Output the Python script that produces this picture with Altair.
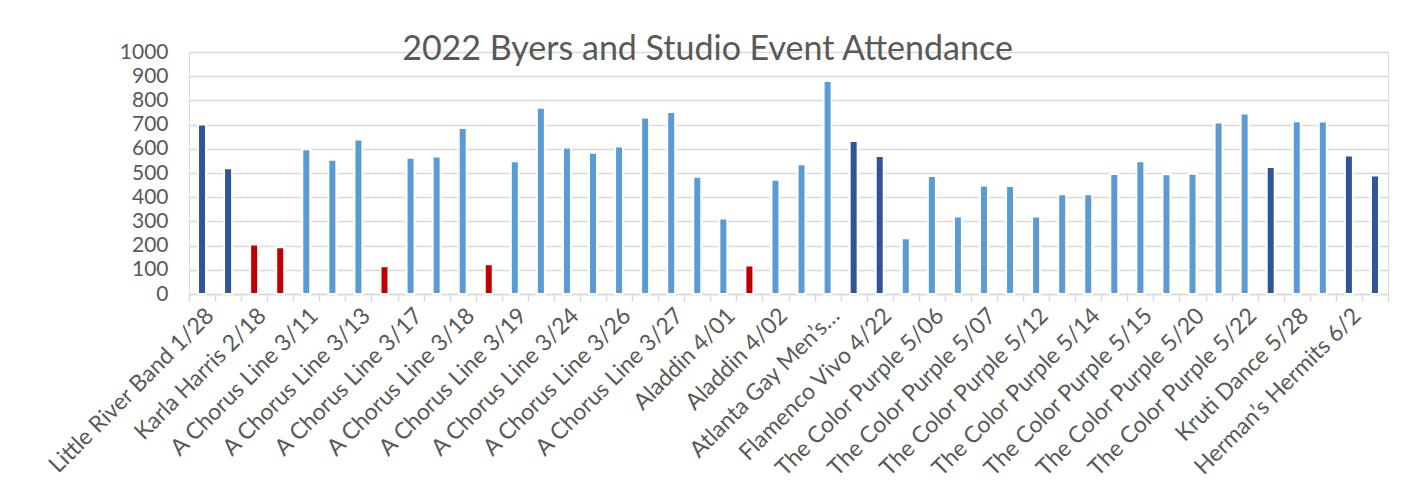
import json
import altair as alt
import pandas as pd

events = [
    "Little River Band 1/28", "Little River Band 1/29", "Karla Harris 2/18", "Karla Harris 2/19",
    "A Chorus Line 3/11", "A Chorus Line 3/12", "A Chorus Line 3/13", "A Chorus Line 3/16",
    "A Chorus Line 3/17", "A Chorus Line 3/17 eve", "A Chorus Line 3/18", "A Chorus Line 3/18 eve",
    "A Chorus Line 3/19", "A Chorus Line 3/20", "A Chorus Line 3/24", "A Chorus Line 3/25",
    "A Chorus Line 3/26", "A Chorus Line 3/26 eve", "A Chorus Line 3/27", "Aladdin 3/31",
    "Aladdin 4/01", "Aladdin 4/01 eve", "Aladdin 4/02", "Aladdin 4/03",
    "Atlanta Gay Men\u2019s\u2026", "Byers Special 4/16", "Flamenco Vivo 4/22", "The Color Purple 5/05",
    "The Color Purple 5/06", "The Color Purple 5/06 eve", "The Color Purple 5/07", "The Color Purple 5/08",
    "The Color Purple 5/12", "The Color Purple 5/13", "The Color Purple 5/14", "The Color Purple 5/14 eve",
    "The Color Purple 5/15", "The Color Purple 5/19", "The Color Purple 5/20", "The Color Purple 5/21",
    "The Color Purple 5/22", "Byers Event 5/27", "Kruti Dance 5/28", "Studio Event 5/29",
    "Herman\u2019s Hermits 6/2", "Byers Event 6/4",
]

attendance = [
    700, 520, 205, 193, 598, 555, 638, 115,
    563, 568, 686, 123, 549, 770, 605, 584,
    610, 729, 752, 485, 312, 118, 472, 536,
    880, 632, 570, 230, 488, 320, 448, 446,
    320, 412, 412, 496, 549, 495, 497, 709,
    746, 525, 714, 713, 572, 490,
]

kind = [
    "Byers", "Byers", "Low", "Low", "Studio", "Studio", "Studio", "Low",
    "Studio", "Studio", "Studio", "Low", "Studio", "Studio", "Studio", "Studio",
    "Studio", "Studio", "Studio", "Studio", "Studio", "Low", "Studio", "Studio",
    "Studio", "Byers", "Byers", "Studio", "Studio", "Studio", "Studio", "Studio",
    "Studio", "Studio", "Studio", "Studio", "Studio", "Studio", "Studio", "Studio",
    "Studio", "Byers", "Studio", "Studio", "Byers", "Byers",
]

shown_labels = events[0::2]
y_ticks = list(range(0, 1001, 100))

kind_domain = ["Byers", "Studio", "Low"]
kind_colors = ["#2F5597", "#5B9BD5", "#C00000"]

df = pd.DataFrame({"event": events, "attendance": attendance, "kind": kind})

label_expr = (
    "indexof(" + json.dumps(shown_labels, ensure_ascii=False) + ", datum.value) >= 0 ? datum.label : ''"
)

FONT = "Lato"
GRAY = "#595959"

chart = (
    alt.Chart(df)
    .mark_bar(size=8, stroke="white", strokeWidth=2)
    .encode(
        x=alt.X(
            "event:N",
            sort=events,
            title=None,
            scale=alt.Scale(paddingInner=0, paddingOuter=0),
            axis=alt.Axis(
                labelAngle=-45,
                labelExpr=label_expr,
                labelFont=FONT,
                labelFontSize=23,
                labelColor=GRAY,
                labelPadding=3,
                labelLimit=400,
                labelOverlap=False,
                tickBand="extent",
                tickColor="#d9d9d9",
                tickSize=7,
                tickWidth=1.5,
                domainColor="#d9d9d9",
                domainWidth=1.5,
                grid=False,
            ),
        ),
        y=alt.Y(
            "attendance:Q",
            title=None,
            scale=alt.Scale(domain=[0, 1000], nice=False),
            axis=alt.Axis(
                values=y_ticks,
                format="d",
                labelFont=FONT,
                labelFontSize=21,
                labelColor=GRAY,
                labelPadding=21,
                domain=False,
                ticks=False,
                gridColor="#d9d9d9",
                gridWidth=1.5,
            ),
        ),
        color=alt.Color(
            "kind:N",
            scale=alt.Scale(domain=kind_domain, range=kind_colors),
            legend=None,
        ),
    )
    .properties(
        width=1199,
        height=242,
        title=alt.TitleParams(
            "2022 Byers and Studio Event Attendance",
            anchor="middle",
            frame="group",
            dx=-81,
            offset=-26,
            font=FONT,
            fontSize=34,
            fontWeight="normal",
            color=GRAY,
        ),
        autosize=alt.AutoSizeParams(type="none"),
        padding={"left": 181, "top": 44, "right": 15, "bottom": 190},
    )
    .configure_view(stroke=None)
    .configure(background="white")
)

chart.save("out.html", embed_options={"renderer": "svg", "actions": False})
